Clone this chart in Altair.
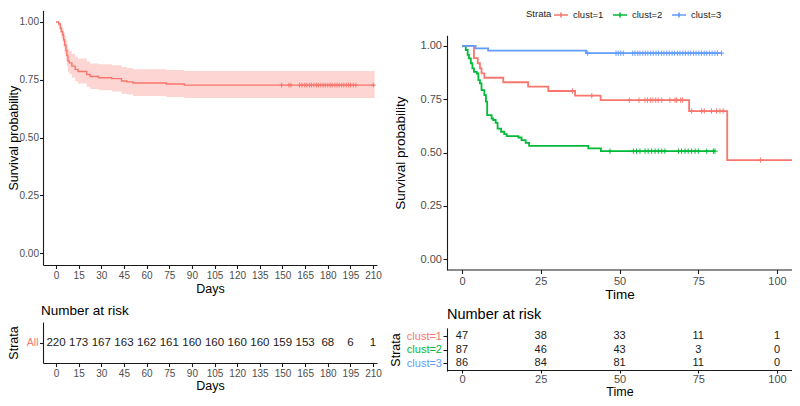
import altair as alt
import pandas as pd

# ---------------- Left panel: overall survival (Days) ----------------
all_time = [0, 1.8, 2.8, 3.5, 4.4, 5.0, 5.7, 6.6, 7.2, 7.9, 8.8, 10.5, 12.7, 14.6,
            20.4, 22.6, 28.1, 36.9, 43.4, 47.0, 51.0, 73.0, 85.0, 211.0]
all_surv = [1.000, 0.991, 0.973, 0.959, 0.945, 0.923, 0.900, 0.877, 0.855, 0.832, 0.823, 0.809,
            0.795, 0.786, 0.773, 0.764, 0.759, 0.755, 0.745, 0.741, 0.736, 0.732, 0.727, 0.727]
all_lower = [1.000, 0.978, 0.952, 0.933, 0.915, 0.889, 0.861, 0.835, 0.810, 0.785, 0.775, 0.759,
             0.744, 0.734, 0.720, 0.710, 0.705, 0.700, 0.690, 0.686, 0.680, 0.676, 0.671, 0.671]
all_upper = [1.000, 1.000, 0.994, 0.985, 0.976, 0.958, 0.940, 0.921, 0.902, 0.882, 0.874, 0.862,
             0.850, 0.842, 0.829, 0.821, 0.817, 0.813, 0.805, 0.801, 0.796, 0.792, 0.788, 0.788]
all_censor = [149.4, 154.3, 155.6, 161.3, 162.9, 164.8, 166.1, 167.9, 169.2, 170.8, 172.5, 173.7,
              175.4, 176.9, 178.3, 180.0, 181.6, 182.9, 184.7, 186.1, 187.5, 189.2, 190.6, 192.3,
              193.8, 195.1, 196.9, 198.6, 210.2]
risk_days = [0, 15, 30, 45, 60, 75, 90, 105, 120, 135, 150, 165, 180, 195, 210]
risk_all = [220, 173, 167, 163, 162, 161, 160, 160, 160, 160, 159, 153, 68, 6, 1]

# ---------------- Right panel: by cluster (Time) ----------------
strata = ["clust=1", "clust=2", "clust=3"]
strata_colors = ["#F8766D", "#00BA38", "#619CFF"]

c1_time = [0, 3.8, 5.0, 5.7, 6.2, 7.1, 13.1, 21.0, 27.4, 35.9, 44.0, 72.1, 84.2, 104.76]
c1_surv = [1.0, 0.943, 0.919, 0.895, 0.872, 0.851, 0.830, 0.809, 0.789, 0.767, 0.746, 0.695, 0.465, 0.465]
c1_censor = [35.1, 41.2, 53.1, 56.2, 58.1, 58.9, 59.8, 60.6, 61.5, 62.3, 63.4, 66.0, 67.6, 68.1,
             69.4, 70.0, 72.9, 76.1, 76.9, 79.2, 80.8, 81.9, 82.9, 94.8]

c2_time = [0, 1.2, 1.8, 2.2, 2.8, 3.3, 3.8, 4.7, 5.2, 5.7, 6.2, 7.1, 7.6, 8.0, 9.4, 9.9, 10.7,
           11.3, 12.4, 13.4, 14.2, 17.9, 18.9, 20.2, 21.3, 40.1, 44.1, 80.3]
c2_surv = [1.0, 0.981, 0.958, 0.942, 0.919, 0.895, 0.879, 0.871, 0.840, 0.825, 0.793, 0.770, 0.739,
           0.676, 0.660, 0.653, 0.640, 0.613, 0.598, 0.587, 0.577, 0.571, 0.559, 0.546, 0.532,
           0.520, 0.507, 0.507]
c2_censor = [47.0, 54.4, 55.4, 56.5, 58.1, 59.1, 60.2, 61.3, 62.3, 63.4, 64.4, 68.7, 69.7, 70.8,
             71.8, 72.9, 74.0, 75.0, 77.7, 79.8, 80.3]

c3_time = [0, 4.3, 8.3, 39.4, 82.4]
c3_surv = [1.0, 0.989, 0.978, 0.966, 0.966]
c3_censor = [39.9, 48.9, 49.6, 50.4, 51.2, 54.2, 54.9, 55.8, 56.5, 57.4, 58.2, 59.0, 59.9, 60.7,
             61.6, 62.4, 63.3, 64.1, 65.0, 65.8, 66.7, 67.5, 68.4, 69.2, 70.1, 70.9, 71.8, 72.6,
             73.5, 74.3, 75.2, 76.0, 76.9, 77.7, 78.6, 79.4, 80.3, 81.1, 82.4]

risk_time = [0, 25, 50, 75, 100]
risk_c1 = [47, 38, 33, 11, 1]
risk_c2 = [87, 46, 43, 3, 0]
risk_c3 = [86, 84, 81, 11, 0]


def step_at(times, surv, t):
    v = surv[0]
    for ti, si in zip(times, surv):
        if ti <= t:
            v = si
    return v


df_all = pd.DataFrame({"time": all_time, "surv": all_surv, "lower": all_lower, "upper": all_upper})
df_all_c = pd.DataFrame({"time": all_censor,
                         "surv": [step_at(all_time, all_surv, t) for t in all_censor]})
df_risk_all = pd.DataFrame({"time": risk_days, "n": risk_all, "strata": "All"})

curves = [(strata[0], c1_time, c1_surv, c1_censor),
          (strata[1], c2_time, c2_surv, c2_censor),
          (strata[2], c3_time, c3_surv, c3_censor)]
df_cl = pd.concat([pd.DataFrame({"time": t, "surv": s, "strata": name})
                   for name, t, s, c in curves], ignore_index=True)
df_cl_c = pd.concat([pd.DataFrame({"time": c, "surv": [step_at(t, s, x) for x in c], "strata": name})
                     for name, t, s, c in curves], ignore_index=True)
df_risk_cl = pd.concat([pd.DataFrame({"time": risk_time, "n": n, "strata": name})
                        for name, n in zip(strata, [risk_c1, risk_c2, risk_c3])], ignore_index=True)

# ---------------- layout / style ----------------
W, H = 784, 390
PLUS = "M0,-1V1M-1,0H1"
LINE_PLUS = "M-1,0H1M0,-0.35V0.35"
AX = dict(grid=False, domainColor="#1a1a1a", domainWidth=1.1, tickColor="#1a1a1a", tickWidth=1.1,
          titleColor="#000000", titleFontWeight="normal", labelFlush=False, labelOverlap=False)
LEFT_TITLE = dict(titleAngle=270, titleBaseline="bottom", titleAlign="center")


def sc(domain, rng, **kw):
    return alt.Scale(domain=domain, range=rng, nice=False, zero=False, **kw)


LX0 = 35  # left panel y-axis position (canvas px)
LX_DOM, LX_RNG = [-8.6, 212.6], [LX0, 369]
RX_DOM, RX_RNG = [-4.76, 104.76], [439, 784]
Y_DOM = [-0.05, 1.05]
LY_RNG, RY_RNG = [256.9, 2.4], [262.0, 27.3]

# ---- left KM ----
lkm_xaxis = alt.Axis(orient="bottom", offset=257 - H, values=risk_days, tickSize=3.5,
                     labelPadding=1.5, labelFontSize=10, labelColor="#4d4d4d",
                     title="Days", titleFontSize=12.5, titleX=202, titleY=17,
                     titleBaseline="top", **AX)
lkm_yaxis = alt.Axis(orient="left", offset=-LX0, values=[0, 0.25, 0.5, 0.75, 1], format=".2f",
                     tickSize=3.5, labelPadding=1, labelFontSize=10, labelColor="#4d4d4d",
                     title="Survival probability", titleFontSize=12.5, titleX=-22.3, titleY=129.65,
                     **LEFT_TITLE, **AX)
lkm_xs, lkm_ys = sc(LX_DOM, LX_RNG), sc(Y_DOM, LY_RNG)

band = alt.Chart(df_all).mark_area(interpolate="step-after", color="#F8766D", opacity=0.3).encode(
    x=alt.X("time:Q", scale=lkm_xs, axis=lkm_xaxis),
    y=alt.Y("lower:Q", scale=lkm_ys, axis=lkm_yaxis), y2="upper:Q")
lline = alt.Chart(df_all).mark_line(interpolate="step-after", color="#F8766D", strokeWidth=1.4).encode(
    x=alt.X("time:Q", scale=lkm_xs, axis=lkm_xaxis),
    y=alt.Y("surv:Q", scale=lkm_ys, axis=lkm_yaxis))
lcens = alt.Chart(df_all_c).mark_point(shape=PLUS, size=22, color="#F8766D", strokeWidth=1,
                                       filled=False, opacity=1).encode(
    x=alt.X("time:Q", scale=lkm_xs, axis=lkm_xaxis),
    y=alt.Y("surv:Q", scale=lkm_ys, axis=lkm_yaxis))
left_km = alt.layer(band, lline, lcens)

# ---- left risk table ----
lrisk = alt.Chart(df_risk_all).mark_text(fontSize=11.5, color="#1a1a1a").encode(
    x=alt.X("time:Q", scale=sc(LX_DOM, LX_RNG),
            axis=alt.Axis(orient="bottom", offset=355 - H, values=risk_days, tickSize=3.5,
                          labelPadding=1.5, labelFontSize=10, labelColor="#4d4d4d",
                          title="Days", titleFontSize=12.5, titleX=202, titleY=16,
                          titleBaseline="top", **AX)),
    y=alt.Y("strata:N", scale=alt.Scale(type="point", domain=["All"], range=[314, 355], padding=0.6),
            axis=alt.Axis(orient="left", offset=-LX0, tickSize=3.5, labelPadding=1.5,
                          labelFontSize=10.5, labelColor="#F8766D",
                          title="Strata", titleFontSize=12.5, titleX=-22.3, titleY=334.5,
                          **LEFT_TITLE, **AX)),
    text="n:Q")
lhead = alt.Chart(pd.DataFrame({"label": ["Number at risk"]})).mark_text(
    align="left", baseline="alphabetic", fontSize=13.5, color="#000000").encode(
    x=alt.value(33), y=alt.value(307), text="label:N")
left_risk = alt.layer(lrisk, lhead)

# ---- right KM ----
rkm_xaxis = alt.Axis(orient="bottom", offset=261.5 - H, values=risk_time, tickSize=4,
                     labelPadding=1.5, labelFontSize=11, labelColor="#4d4d4d",
                     title="Time", titleFontSize=13.5, titleX=611.5, titleY=17.5,
                     titleBaseline="top", **AX)
rkm_yaxis = alt.Axis(orient="left", offset=-439, values=[0, 0.25, 0.5, 0.75, 1], format=".2f",
                     tickSize=4, labelPadding=1.5, labelFontSize=11, labelColor="#4d4d4d",
                     title="Survival probability", titleFontSize=13.5, titleX=-40,
                     titleY=144.65, **LEFT_TITLE, **AX)
rkm_xs, rkm_ys = sc(RX_DOM, RX_RNG), sc(Y_DOM, RY_RNG)
rkm_cs = alt.Scale(domain=strata, range=strata_colors)
legend = alt.Legend(orient="none", legendX=518, legendY=-1.2, direction="horizontal",
                    titleOrient="left", title="Strata", symbolType=LINE_PLUS,
                    symbolSize=196, symbolStrokeWidth=1.6, labelFontSize=9.5,
                    titleFontSize=9.5, titleFontWeight="normal", labelOffset=4,
                    columnPadding=5, titlePadding=1, padding=0,
                    labelColor="#222222", titleColor="#222222",
                    titleBaseline="middle", titleAnchor="middle")

rline = alt.Chart(df_cl).mark_line(interpolate="step-after", strokeWidth=1.8).encode(
    x=alt.X("time:Q", scale=rkm_xs, axis=rkm_xaxis),
    y=alt.Y("surv:Q", scale=rkm_ys, axis=rkm_yaxis),
    color=alt.Color("strata:N", scale=rkm_cs, legend=legend))
rcens = alt.Chart(df_cl_c).mark_point(shape=PLUS, size=28, strokeWidth=1, filled=False, opacity=1).encode(
    x=alt.X("time:Q", scale=rkm_xs, axis=rkm_xaxis),
    y=alt.Y("surv:Q", scale=rkm_ys, axis=rkm_yaxis),
    color=alt.Color("strata:N", scale=rkm_cs, legend=legend))
right_km = alt.layer(rline, rcens)

# ---- right risk table ----
label_color = {"condition": [{"test": "datum.value === 'clust=1'", "value": strata_colors[0]},
                             {"test": "datum.value === 'clust=2'", "value": strata_colors[1]}],
               "value": strata_colors[2]}
rrisk = alt.Chart(df_risk_cl).mark_text(fontSize=11, color="#1a1a1a").encode(
    x=alt.X("time:Q", scale=sc(RX_DOM, RX_RNG),
            axis=alt.Axis(orient="bottom", offset=362 - H, values=risk_time, tickSize=3,
                          labelPadding=0.5, labelFontSize=11, labelColor="#4d4d4d",
                          title="Time", titleFontSize=12.5, titleX=611.5, titleY=25,
                          titleBaseline="alphabetic", **AX)),
    y=alt.Y("strata:N", scale=alt.Scale(type="point", domain=strata, range=[319.9, 363.1], padding=0.6),
            axis=alt.Axis(orient="left", offset=-439, tickSize=4, labelPadding=1.5,
                          labelFontSize=11, labelColor=label_color,
                          title="Strata", titleFontSize=12.5, titleX=-45, titleY=341.5,
                          **LEFT_TITLE, **AX)),
    text="n:Q")
rhead = alt.Chart(pd.DataFrame({"label": ["Number at risk"]})).mark_text(
    align="left", baseline="alphabetic", fontSize=14.5, color="#000000").encode(
    x=alt.value(439), y=alt.value(311), text="label:N")
right_risk = alt.layer(rrisk, rhead)

chart = alt.layer(left_km, left_risk, right_km, right_risk).resolve_scale(
    x="independent", y="independent", color="independent"
).properties(
    width=W, height=H, autosize=alt.AutoSizeParams(type="none"), padding=0
).configure(font="Liberation Sans").configure_view(stroke=None)

chart.save("out.html", embed_options={"renderer": "svg", "actions": False})
